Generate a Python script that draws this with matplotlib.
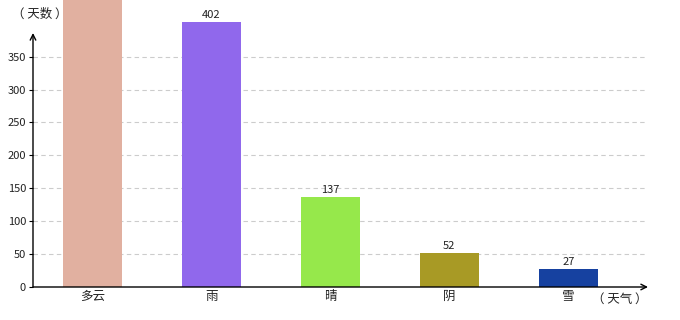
import matplotlib
matplotlib.use("Agg")
import matplotlib.pyplot as plt

plt.rcParams['font.family'] = ['Noto Sans CJK SC', 'DejaVu Sans']

categories = ["多云", "雨", "晴", "阴", "雪"]
values = [700, 402, 137, 52, 27]
colors = ["#e1b0a0", "#9068ec", "#96e84b", "#a89a25", "#1641a0"]
yticks = [0, 50, 100, 150, 200, 250, 300, 350]

W, H = 680, 320
fig = plt.figure(figsize=(W/100, H/100), dpi=100)
x0, y0, x1, y1 = 33, 287, 648, 33
ax = fig.add_axes([x0/W, (H-y0)/H, (x1-x0)/W, (y0-y1)/H])
ax.set_xlim(-0.5, 4.67)
ax.set_ylim(0, 386)

bars = ax.bar(range(len(categories)), values, width=0.5, color=colors, zorder=2, clip_on=False)
for i, (v, b) in enumerate(zip(values, bars)):
    if v <= 420:
        ax.text(i, v + 3, str(v), ha='center', va='bottom', fontsize=8, color='#222222', clip_on=False)

for t in yticks[1:]:
    ax.axhline(t, xmax=0.995, color='#cccccc', lw=0.8, ls=(0, (4, 3)), zorder=1)

for s in ['top', 'right', 'left', 'bottom']:
    ax.spines[s].set_visible(False)

ax.annotate('', xy=(0, 1.0), xytext=(0, 0), xycoords='axes fraction',
            arrowprops=dict(arrowstyle='->', lw=1, color='black', shrinkA=0, shrinkB=0))
ax.annotate('', xy=(1.0, 0), xytext=(0, 0), xycoords='axes fraction',
            arrowprops=dict(arrowstyle='->', lw=1, color='black', shrinkA=0, shrinkB=0))

ax.set_yticks(yticks)
ax.set_yticklabels([str(t) for t in yticks], fontsize=8, color='#222222')
ax.tick_params(axis='y', length=3, width=0.8, pad=2)
ax.set_xticks(range(len(categories)))
ax.set_xticklabels(categories, fontsize=9, color='#222222')
ax.tick_params(axis='x', length=0, pad=2)

fig.text(40/W, 1 - 14/H, "（ 天数 ）", ha='center', va='center', fontsize=9, color='#222222')
fig.text(620/W, 1 - 299/H, "（ 天气 ）", ha='center', va='center', fontsize=9, color='#222222')

fig.savefig("out.png", dpi=100)
